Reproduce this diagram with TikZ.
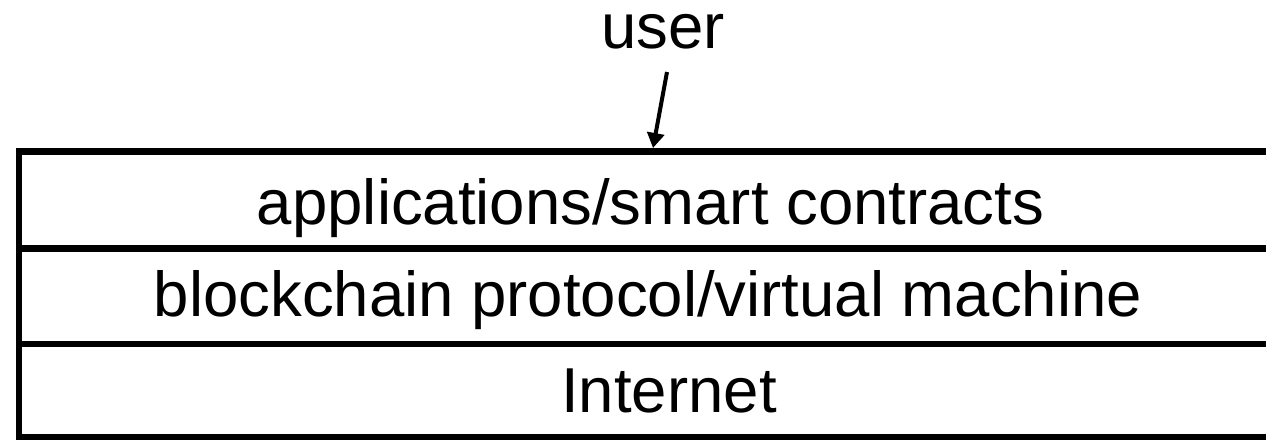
\documentclass[tikz,border=0pt]{standalone}
\usepackage{fontspec}
\setmainfont{Liberation Sans}
\usetikzlibrary{arrows.meta}
\begin{document}
\begin{tikzpicture}[x=1pt,y=-1pt,
  layer/.style={line width=6.5pt},
  lbl/.style={font=\fontsize{63.5}{72}\selectfont, anchor=base, inner sep=0pt},
  arr/.style={line width=4pt, -{Triangle[width=17pt,length=15pt]}}]
\useasboundingbox (0,0) rectangle (1266,439);
\clip (0,0) rectangle (1266,439);
\coordinate (tl) at (19,151.5);
\coordinate (bl) at (19,437.5);
\draw[layer] (1300,151.5) -- (tl) -- (bl) -- (1300,437.5);
\draw[layer] (19,248.5) -- (1300,248.5);
\draw[layer] (19,344) -- (1300,344);
\node[lbl] (user) at (663,48) {user};
\node[lbl] (app) at (650.5,224) {applications/smart contracts};
\node[lbl] (bc) at (648,316) {blockchain protocol/virtual machine};
\node[lbl] (net) at (669,412) {Internet};
\coordinate (s) at (667,72);
\coordinate (t) at (653,148);
\draw[arr] (s) -- (t);
\end{tikzpicture}
\end{document}
